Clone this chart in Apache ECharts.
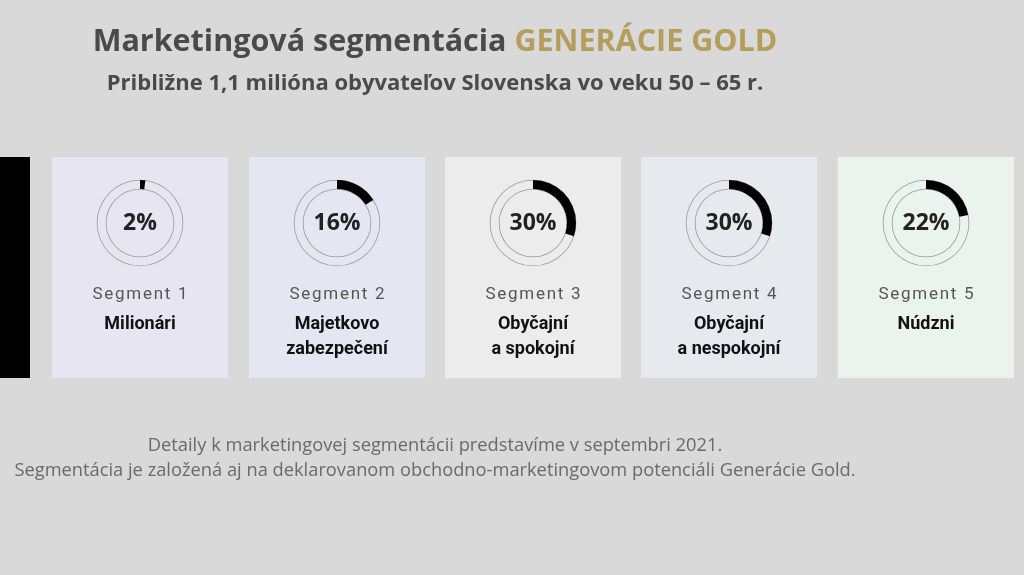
<!DOCTYPE html><html><head><meta charset="utf-8">
<script src="https://cdn.jsdelivr.net/npm/echarts@6/dist/echarts.min.js"></script>
<style>html,body{margin:0;background:#d9d9d9}#c{width:1024px;height:575px}</style></head><body><div id="c"></div>
<script>
const segments=['Segment 1','Segment 2','Segment 3','Segment 4','Segment 5'];
const names=['Milionári','Majetkovo\nzabezpečení','Obyčajní\na spokojní','Obyčajní\na nespokojní','Núdzni'];
const values=[2,16,30,30,22];
const cardColors=['#e8e5f3','#e6e6f3','#ececec','#e6e9ee','#ebf3ee'];
const cardX=[52,249,445,641,838], cardW=176;
const chart=echarts.init(document.getElementById('c'));
const graphic=[
 {type:'rect',shape:{x:0,y:157,width:30,height:221},style:{fill:'#000'}},
 {type:'text',x:435,y:42,style:{align:'center',verticalAlign:'middle',rich:{a:{fill:'#4a4a4a',fontSize:30.5,fontWeight:'bold',fontFamily:'Open Sans'},b:{fill:'#b59d5b',fontSize:30.5,fontWeight:'bold',fontFamily:'Open Sans'}},text:'{a|Marketingová segmentácia }{b|GENERÁCIE GOLD}'}},
 {type:'text',x:435,y:84,style:{text:'Približne 1,1 milióna obyvateľov Slovenska vo veku 50 – 65 r.',fill:'#4a4a4a',fontSize:22,fontWeight:'bold',fontFamily:'Open Sans',align:'center',verticalAlign:'middle'}},
 {type:'text',x:435,y:446,style:{text:'Detaily k marketingovej segmentácii predstavíme v septembri 2021.',fill:'#6a6a6a',fontSize:18.3,fontFamily:'Open Sans',align:'center',verticalAlign:'middle'}},
 {type:'text',x:435,y:471,style:{text:'Segmentácia je založená aj na deklarovanom obchodno-marketingovom potenciáli Generácie Gold.',fill:'#6a6a6a',fontSize:18.3,fontFamily:'Open Sans',align:'center',verticalAlign:'middle'}}
];
const series=[];
segments.forEach((s,i)=>{
 const cx=cardX[i]+cardW/2;
 graphic.push({type:'rect',z:-1,shape:{x:cardX[i],y:157,width:cardW,height:221},style:{fill:cardColors[i]}});
 graphic.push({type:'text',x:cx,y:295,style:{text:s.split('').join('\u200A'),fill:'#555',fontSize:17,fontFamily:'Roboto',align:'center',verticalAlign:'middle'}});
 graphic.push({type:'text',x:cx,y:312,style:{text:names[i],fill:'#111',fontSize:18,fontWeight:'bold',fontFamily:'Roboto',align:'center',verticalAlign:'top',lineHeight:25}});
 const center=[cx,223];
 series.push({type:'pie',silent:true,center,radius:[34,43],startAngle:90,clockwise:true,label:{show:false},labelLine:{show:false},
  data:[{value:values[i],itemStyle:{color:'#000'}},{value:100-values[i],itemStyle:{color:'rgba(0,0,0,0)'}}],z:3});
 series.push({type:'pie',silent:true,center,radius:[42.5,43.3],label:{show:false},data:[{value:1,itemStyle:{color:'#999'}}],z:2});
 series.push({type:'pie',silent:true,center,radius:[33.5,34.3],data:[{value:1,itemStyle:{color:'#999'}}],z:2,
  label:{show:true,position:'center',formatter:values[i]+'%',fontSize:23,fontWeight:'bold',color:'#222',fontFamily:'Open Sans'},labelLine:{show:false}});
});
chart.setOption({animation:false,graphic,series});
</script></body></html>
